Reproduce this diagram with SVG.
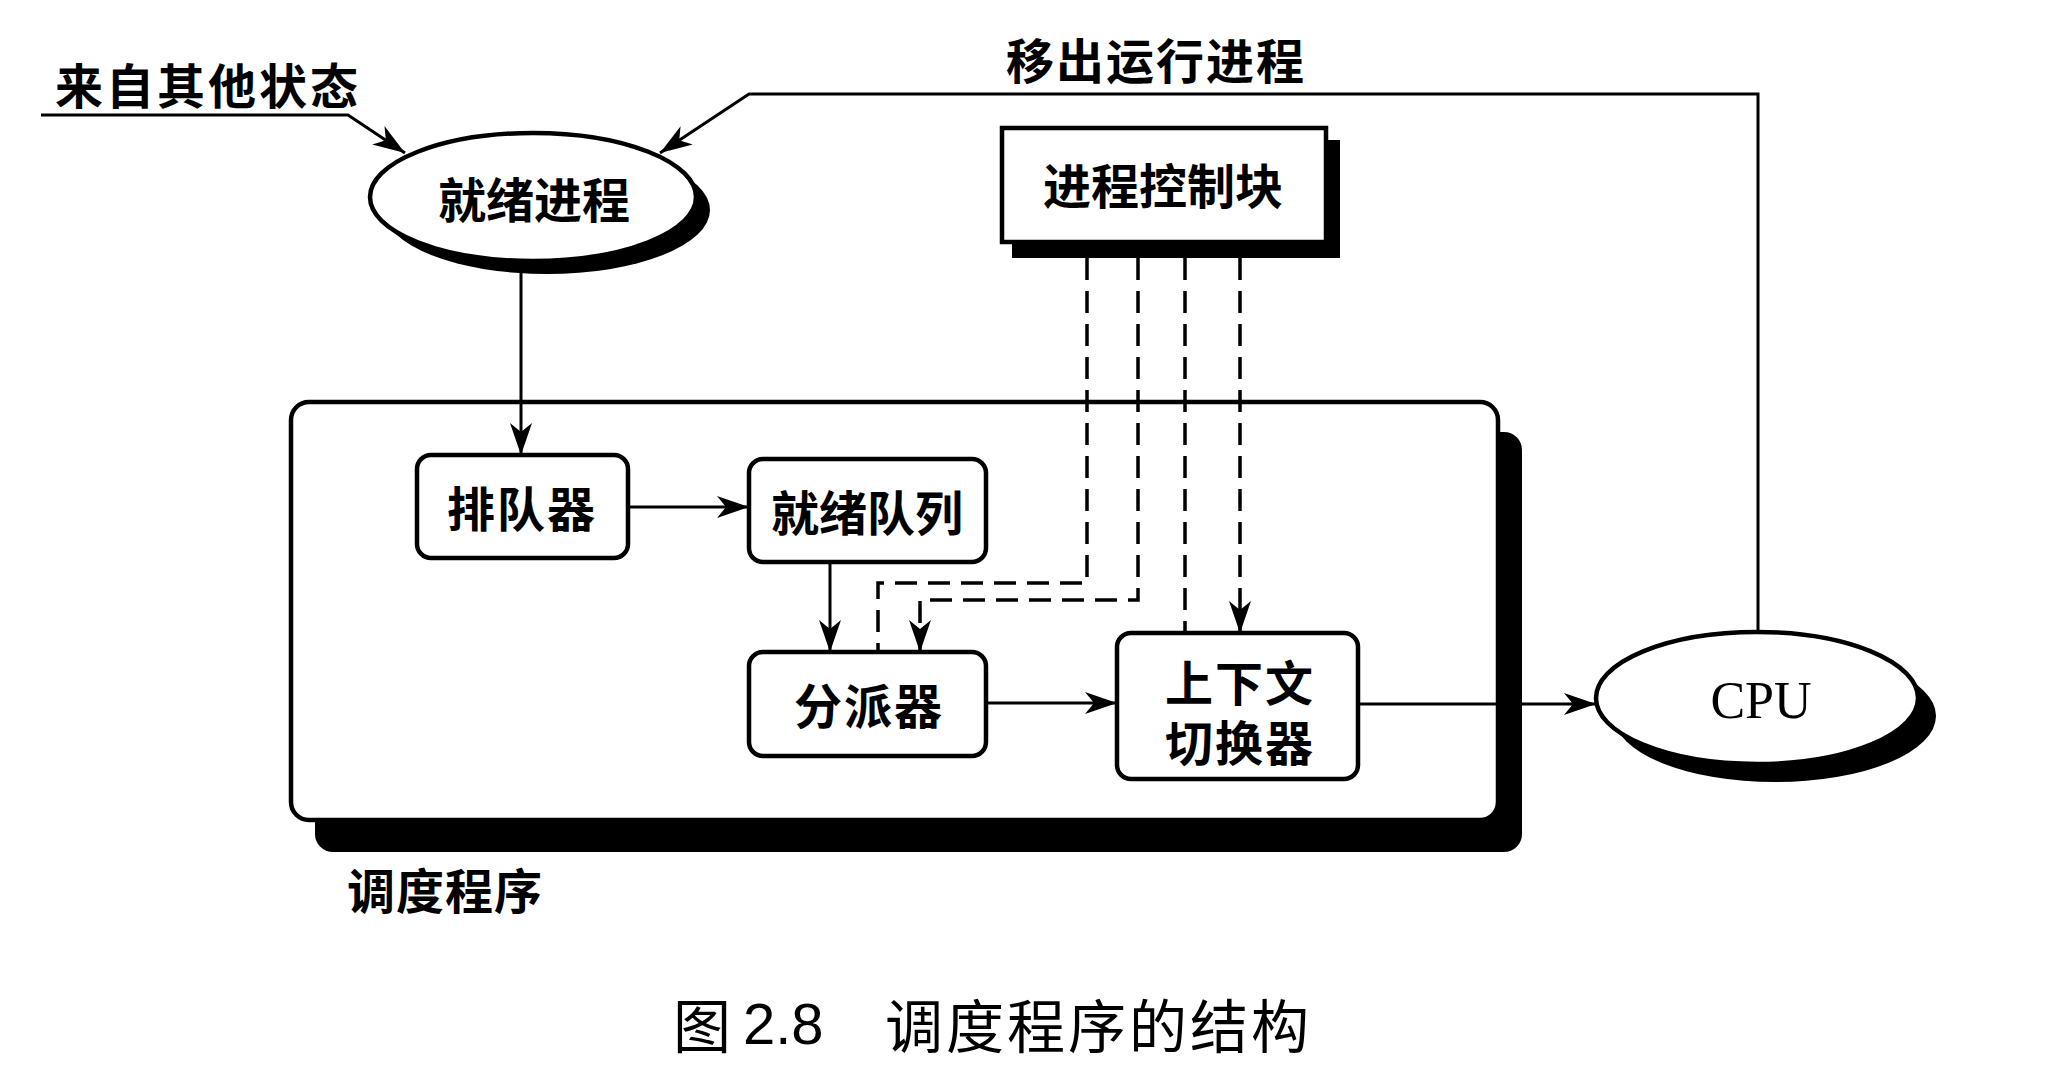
<svg xmlns="http://www.w3.org/2000/svg" width="2048" height="1090" viewBox="0 0 2048 1090">
<style>
.lbl{font-family:"Noto Sans CJK SC","Noto Sans",sans-serif;font-weight:700;font-size:48px;fill:#000;text-anchor:middle;dominant-baseline:central}
.cap{font-family:"Noto Sans CJK SC","Noto Sans",sans-serif;font-weight:400;font-size:58px;fill:#000;dominant-baseline:central}
.box{fill:#fff;stroke:#000;stroke-width:4.5}
.shadow{fill:#000;stroke:none}
.conn{fill:none;stroke:#000;stroke-width:3}
.dash{fill:none;stroke:#000;stroke-width:3.5;stroke-dasharray:22 11}
</style>
<defs>
<marker id="arr" viewBox="0 0 32 22" refX="32" refY="11" markerWidth="32" markerHeight="22" orient="auto" markerUnits="userSpaceOnUse">
<path d="M0,0 L32,11 L0,22 L9,11 Z" fill="#000"/>
</marker>
</defs>
<rect width="2048" height="1090" fill="#fff"/>

<g id="scheduler">
<rect class="shadow" x="315" y="432" width="1207" height="420" rx="18"/>
<rect class="box" x="291" y="402" width="1207" height="418" rx="18" stroke-width="5"/>
<text class="lbl" x="445" y="888" letter-spacing="1">调度程序</text>
</g>

<g id="ready-process">
<ellipse class="shadow" cx="547" cy="210" rx="163" ry="64"/>
<ellipse class="box" cx="533" cy="197" rx="163" ry="64"/>
<text class="lbl" x="534" y="197">就绪进程</text>
</g>

<g id="pcb">
<rect class="shadow" x="1012" y="140" width="328" height="118"/>
<rect class="box" x="1002" y="128" width="324" height="114" stroke-width="6"/>
<text class="lbl" x="1163" y="183" font-size="50">进程控制块</text>
</g>

<g id="enqueuer">
<rect class="box" x="417" y="455" width="211" height="103" rx="14"/>
<text class="lbl" x="522" y="506" letter-spacing="2">排队器</text>
</g>

<g id="ready-queue">
<rect class="box" x="749" y="459" width="237" height="103" rx="14"/>
<text class="lbl" x="867" y="510">就绪队列</text>
</g>

<g id="dispatcher">
<rect class="box" x="749" y="652" width="237" height="104" rx="14"/>
<text class="lbl" x="869" y="703" letter-spacing="2">分派器</text>
</g>

<g id="context-switcher">
<rect class="box" x="1117" y="633" width="241" height="146" rx="14"/>
<text class="lbl" letter-spacing="2"><tspan x="1240" y="680">上下文</tspan><tspan x="1240" y="740">切换器</tspan></text>
</g>

<g id="cpu">
<ellipse class="shadow" cx="1775" cy="716" rx="161" ry="66"/>
<ellipse class="box" cx="1757" cy="698" rx="161" ry="66"/>
<text x="1761" y="700" font-family="Liberation Serif,serif" font-size="52" text-anchor="middle" dominant-baseline="central">CPU</text>
</g>

<g id="connectors">
<path class="conn" d="M41,115 H348 L405,153" marker-end="url(#arr)"/>
<path class="conn" d="M1758,632 V94 H749 L660,153" marker-end="url(#arr)"/>
<path class="conn" d="M521,262 V455" marker-end="url(#arr)"/>
<path class="conn" d="M628,507 H749" marker-end="url(#arr)"/>
<path class="conn" d="M830,562 V652" marker-end="url(#arr)"/>
<path class="conn" d="M986,703 H1117" marker-end="url(#arr)"/>
<path class="conn" d="M1358,704 H1596" marker-end="url(#arr)"/>
<path class="dash" d="M1087,258 V583 H878 V652"/>
<path class="dash" d="M1138,258 V600 H920 V652" marker-end="url(#arr)"/>
<path class="dash" d="M1185,258 V633"/>
<path class="dash" d="M1240,258 V633" marker-end="url(#arr)"/>
</g>

<g id="labels">
<text class="lbl" x="208" y="83" letter-spacing="3">来自其他状态</text>
<text class="lbl" x="1156" y="58" letter-spacing="2">移出运行进程</text>
</g>

<text class="cap" y="1023"><tspan x="673">图</tspan><tspan x="743" font-family="Liberation Sans,sans-serif">2.8</tspan><tspan x="885" letter-spacing="3">调度程序的结构</tspan></text>
</svg>
